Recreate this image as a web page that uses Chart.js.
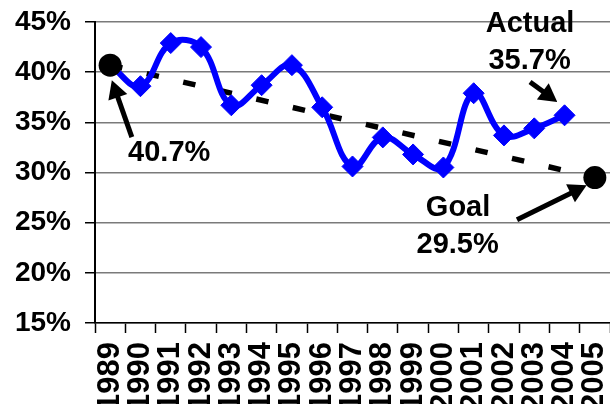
<!DOCTYPE html>
<html>
<head>
<meta charset="utf-8">
<script src="https://cdn.jsdelivr.net/npm/chart.js@4/dist/chart.umd.min.js"></script>
<style>
  html, body { margin: 0; padding: 0; background: #fff; overflow: hidden; }
  canvas { display: block; }
</style>
</head>
<body>
<canvas id="chart" width="610" height="404"></canvas>
<script>
// Years on the category axis
const years = ['1989','1990','1991','1992','1993','1994','1995','1996','1997',
               '1998','1999','2000','2001','2002','2003','2004','2005'];

// Actual rate by year (percent)
const actualRate = [40.7, 38.6, 42.9, 42.5, 36.7, 38.7, 40.7, 36.5, 30.6,
                    33.5, 31.8, 30.5, 37.9, 33.7, 34.4, 35.7, null];

// Goal trend: from the 1989 baseline to the 2005 target (percent)
const goalLine = [40.7, null, null, null, null, null, null, null, null,
                  null, null, null, null, null, null, null, 29.5];

// Value axis range and step (percent)
const yMin = 15, yMax = 45, yStep = 5;

const FONT = 'Liberation Sans, Arial, sans-serif';
const fmt = v => v.toFixed(1) + '%';

// Callout text, anchored in data space (category index, value)
const callouts = [
  { text: fmt(actualRate[0]), at: [1.95, 32.2] },
  { text: 'Actual',           at: [13.86, 45.07] },
  { text: fmt(actualRate[15]), at: [13.845, 41.35] },
  { text: 'Goal',             at: [11.485, 26.73] },
  { text: fmt(goalLine[16]),  at: [11.47, 23.04] }
];

// Pointer arrows, tail -> tip, anchored in data space
const pointers = [
  { from: [0.716, 33.53], to: [0.056, 39.19] },
  { from: [13.86, 39.02], to: [14.76, 37.02] },
  { from: [13.43, 25.3],  to: [15.73, 28.72] }
];

const calloutPlugin = {
  id: 'callouts',
  afterDatasetsDraw(chart) {
    const { ctx, scales: { x, y } } = chart;
    const px = p => [x.getPixelForValue(p[0]), y.getPixelForValue(p[1])];
    ctx.save();
    ctx.fillStyle = '#000';
    ctx.strokeStyle = '#000';

    // arrows
    pointers.forEach(a => {
      const [x0, y0] = px(a.from);
      const [x1, y1] = px(a.to);
      const ang = Math.atan2(y1 - y0, x1 - x0);
      const headLen = 18, headHalf = 10;
      const bx = x1 - Math.cos(ang) * headLen;
      const by = y1 - Math.sin(ang) * headLen;
      ctx.lineWidth = 5;
      ctx.lineCap = 'butt';
      ctx.beginPath();
      ctx.moveTo(x0, y0);
      ctx.lineTo(bx + Math.cos(ang) * 2, by + Math.sin(ang) * 2);
      ctx.stroke();
      ctx.beginPath();
      ctx.moveTo(x1, y1);
      ctx.lineTo(bx + Math.sin(ang) * headHalf, by - Math.cos(ang) * headHalf);
      ctx.lineTo(bx - Math.sin(ang) * headHalf, by + Math.cos(ang) * headHalf);
      ctx.closePath();
      ctx.fill();
    });

    // text
    const size = 29;
    ctx.font = 'bold ' + size + 'px ' + FONT;
    ctx.textAlign = 'center';
    ctx.textBaseline = 'alphabetic';
    callouts.forEach(c => {
      const [cx, cy] = px(c.at);
      ctx.fillText(c.text, cx, cy + size * 0.358);
    });
    ctx.restore();
  }
};

new Chart(document.getElementById('chart'), {
  type: 'line',
  data: {
    labels: years,
    datasets: [
      {
        label: 'Goal',
        data: goalLine,
        borderColor: '#000',
        borderWidth: 5.5,
        borderDash: [12.5, 25],
        borderCapStyle: 'butt',
        spanGaps: true,
        tension: 0,
        pointRadius: 0,
        fill: false,
        clip: false,
        order: 3
      },
      {
        label: 'Actual',
        data: actualRate,
        borderColor: '#0000ff',
        backgroundColor: '#0000ff',
        borderWidth: 6,
        tension: 0.4,
        pointStyle: 'rectRot',
        pointRadius: 10.5,
        pointBorderWidth: 1,
        pointBorderColor: '#0000ff',
        pointBackgroundColor: '#0000ff',
        fill: false,
        clip: false,
        order: 2
      },
      {
        label: 'Endpoints',
        data: goalLine,
        showLine: false,
        pointStyle: 'circle',
        pointRadius: 11.5,
        pointBorderWidth: 0,
        pointBackgroundColor: '#000',
        pointBorderColor: '#000',
        clip: false,
        order: 1
      }
    ]
  },
  options: {
    responsive: false,
    animation: false,
    events: [],
    layout: { autoPadding: false, padding: { top: 22, right: 0, bottom: 0, left: 0 } },
    plugins: {
      legend: { display: false },
      tooltip: { enabled: false }
    },
    scales: {
      x: {
        type: 'category',
        offset: true,
        grid: {
          offset: true,
          drawOnChartArea: false,
          drawTicks: true,
          tickLength: 10,
          tickColor: '#000',
          tickWidth: 1.5
        },
        border: { display: true, color: '#000', width: 1.5 },
        ticks: {
          autoSkip: false,
          minRotation: 90,
          maxRotation: 90,
          padding: 9,
          color: '#000',
          font: { family: FONT, size: 31, weight: 'bold' }
        },
        afterFit(s) { s.height = 81; s.paddingLeft = 0; s.paddingRight = 0; }
      },
      y: {
        min: yMin,
        max: yMax,
        ticks: {
          stepSize: yStep,
          padding: 14,
          color: '#000',
          font: { family: FONT, size: 28, weight: 'bold' },
          callback: v => v + '%'
        },
        grid: {
          color: '#7a7a7a',
          lineWidth: 1.5,
          tickLength: 10,
          tickColor: '#000',
          tickWidth: 1.5
        },
        border: { color: '#000', width: 2 },
        afterFit(s) { s.width = 95; s.paddingTop = 0; s.paddingBottom = 0; }
      }
    }
  },
  plugins: [calloutPlugin]
});
</script>
</body>
</html>
